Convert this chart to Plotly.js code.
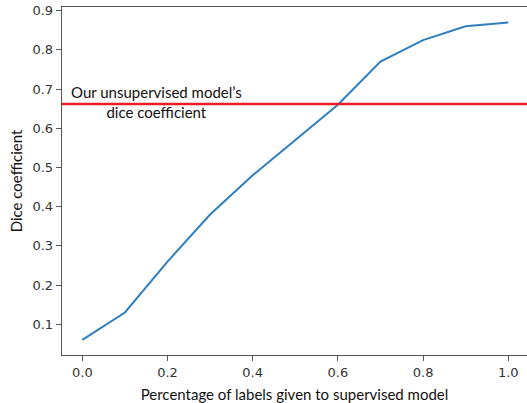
<!DOCTYPE html>
<html>
<head>
<meta charset="utf-8">
<script src="https://cdn.plot.ly/plotly-3.0.1.min.js"></script>
<style>html,body{margin:0;padding:0;overflow:hidden;background:#fff}</style>
</head>
<body>
<div id="chart" style="width:527px;height:403px"></div>
<script>
const fractions = [0.0, 0.1, 0.2, 0.3, 0.4, 0.5, 0.6, 0.7, 0.8, 0.9, 1.0];
const diceScores = [0.06, 0.13, 0.26, 0.38, 0.48, 0.57, 0.66, 0.77, 0.825, 0.86, 0.87];
const unsupervisedDice = 0.662;
const xTicks = [0.0, 0.2, 0.4, 0.6, 0.8, 1.0];
const xTickLabels = ["0.0", "0.2", "0.4", "0.6", "0.8", "1.0"];
const yTicks = [0.1, 0.2, 0.3, 0.4, 0.5, 0.6, 0.7, 0.8, 0.9];
const yTickLabels = ["0.1", "0.2", "0.3", "0.4", "0.5", "0.6", "0.7", "0.8", "0.9"];
const annotationText = "Our unsupervised model’s<br>dice coefficient";
const xTitle = "Percentage of labels given to supervised model";
const yTitle = "Dice coefficient";

const textFont = "Lato, 'Open Sans', sans-serif";

const traces = [
  {
    x: fractions, y: diceScores, type: "scatter", mode: "lines",
    line: {color: "#2f7fbf", width: 2}, hoverinfo: "skip", showlegend: false
  }
];

const layout = {
  width: 527, height: 403,
  margin: {l: 62, r: 0, t: 7, b: 48, pad: 0},
  paper_bgcolor: "#fff", plot_bgcolor: "#fff",
  showlegend: false,
  xaxis: {
    range: [-0.0477, 1.044], tickvals: xTicks, ticktext: xTickLabels,
    showgrid: false, zeroline: false, showline: true, mirror: true,
    linecolor: "#555", linewidth: 1.3,
    ticks: "outside", ticklen: 5, tickwidth: 1, tickcolor: "#555",
    tickfont: {family: "DejaVu Sans", size: 13, color: "#333"},
    title: {text: xTitle, font: {family: textFont, size: 15, color: "#111"}, standoff: 10}
  },
  yaxis: {
    range: [0.0216, 0.9094], tickvals: yTicks, ticktext: yTickLabels,
    showgrid: false, zeroline: false, showline: true, mirror: false,
    linecolor: "#555", linewidth: 1.3,
    ticks: "outside", ticklen: 5, tickwidth: 1, tickcolor: "#555",
    tickfont: {family: "DejaVu Sans", size: 13, color: "#333"},
    title: {text: yTitle, font: {family: textFont, size: 15, color: "#111"}, standoff: 6}
  },
  shapes: [
    {type: "line", xref: "paper", x0: 0, x1: 1, yref: "y", y0: unsupervisedDice, y1: unsupervisedDice,
     line: {color: "#ee1c25", width: 2.4}}
  ],
  annotations: [
    {xref: "x", yref: "y", x: 0.174, y: unsupervisedDice + 0.004, text: annotationText, showarrow: false,
     font: {family: textFont, size: 15, color: "#111"}, align: "center", xanchor: "center", yanchor: "middle"}
  ]
};

Plotly.newPlot("chart", traces, layout, {staticPlot: true, displayModeBar: false});
</script>
</body>
</html>
